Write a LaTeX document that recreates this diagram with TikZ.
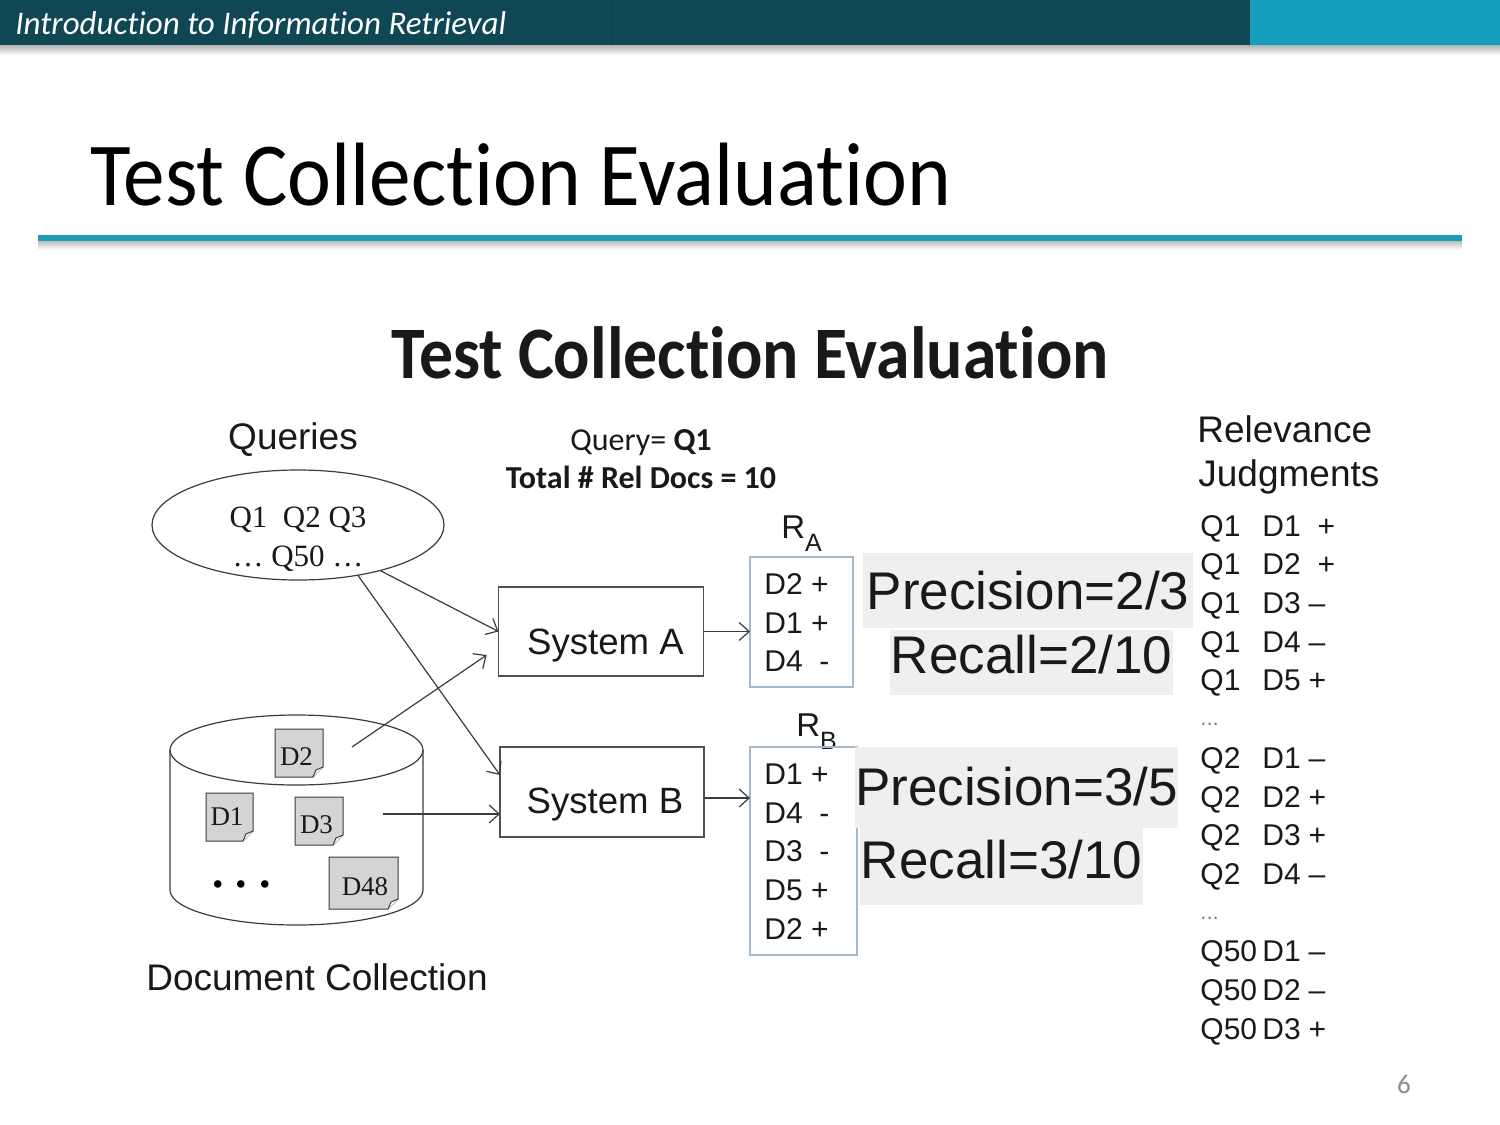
\documentclass[tikz,border=0pt]{standalone}
\usepackage{fontspec}
\usepackage{graphicx}
\setmainfont{Liberation Sans}
\newfontfamily\calfont{Carlito}[Ligatures=NoCommon]
\newfontfamily\tmsfont{Liberation Serif}
\usetikzlibrary{arrows.meta,shapes.geometric}
\definecolor{hdrdark}{RGB}{16,71,84}
\definecolor{hdrlight}{RGB}{20,157,189}
\definecolor{rulecol}{RGB}{31,155,182}
\definecolor{boxline}{RGB}{80,80,80}
\definecolor{listline}{RGB}{165,185,205}
\definecolor{pbg}{RGB}{239,239,239}
\definecolor{docgray}{RGB}{212,212,212}
\definecolor{ink}{RGB}{25,25,25}
\definecolor{lineink}{RGB}{60,60,60}
\definecolor{pagenum}{RGB}{140,140,140}
\newcommand{\docicon}[8]{%
  \fill[docgray] (#2,#3) -- (#4,#3) -- (#4,{#5-10}) -- ({#4-10},#5) -- (#2,#5) -- cycle;
  \draw[lineink, line width=0.5pt] (#2,#3) -- (#4,#3) -- (#4,{#5-10}) -- ({#4-10},#5) -- (#2,#5) -- cycle;
  \draw[lineink, line width=0.5pt, fill=white] (#4,{#5-10}) -- ({#4-7},{#5-7}) -- ({#4-10},#5);
  \node[doclabel] (#1) at (#6,#7) {#8};
}
\begin{document}
\begin{tikzpicture}[x=0.5pt,y=-0.5pt,
  txt/.style={inner sep=0, text=ink},
  doclabel/.style={inner sep=0, text=ink, font=\tmsfont\fontsize{13.5}{16}\selectfont},
  sysbox/.style={draw=boxline, line width=0.6pt, rectangle, inner sep=0, outer sep=0},
  listbox/.style={draw=listline, line width=0.6pt, rectangle, inner sep=0, outer sep=0},
  pr/.style={fill=pbg, inner sep=0, text=ink, font=\fontsize{26.5}{30}\selectfont, text height=19.35pt},
  conn/.style={draw=lineink, line width=0.6pt, -{Straight Barb[length=5pt,width=9pt]}},
  lst/.style={anchor=north west, inner sep=0, text=ink, font=\fontsize{15}{19.35}\selectfont}
]
\useasboundingbox (0,0) rectangle (1500,1125);
\fill[white] (0,0) rectangle (1500,1125);
% header bar
\shade[top color=black!30, bottom color=white] (0,45) rectangle (1500,55);
\fill[hdrdark] (0,0) rectangle (1250,45);
\fill[hdrlight] (1250,0) rectangle (1500,45);
\draw[hdrdark!85!black, line width=0.5pt] (612,0) -- (612,45);
\node[anchor=base west, inner sep=0, text=white, font=\calfont\itshape\fontsize{16.5}{20}\selectfont] (hdr) at (15,34) {Introduction to Information Retrieval};
% title
\node[anchor=base west, inner sep=0, text=black, font=\calfont\fontsize{45}{54}\selectfont] (title) at (90,205) {\scalebox{0.925}[1]{Test Collection Evaluation}};
\shade[top color=black!25, bottom color=white] (38,241) rectangle (1462,250);
\fill[rulecol] (38,235) rectangle (1462,241);
% subtitle
\node[anchor=base, txt, font=\calfont\bfseries\fontsize{37}{44}\selectfont] (sub) at (750,378) {\scalebox{0.915}[1]{Test Collection Evaluation}};
\node[anchor=base, txt, font=\calfont\fontsize{16}{19}\selectfont] (qline) at (641,450) {Query= \textbf{Q1}};
\node[anchor=base, txt, font=\calfont\bfseries\fontsize{16}{19}\selectfont] (totline) at (641,488) {Total \# Rel Docs = 10};
% queries
\node[anchor=base, txt, font=\fontsize{18.5}{22}\selectfont] (queries) at (293,449) {Queries};
\node[draw=lineink, line width=0.6pt, ellipse, minimum width=146pt, minimum height=55pt, inner sep=0, outer sep=0] (qell) at (298,525) {};
\node[txt, align=center, font=\tmsfont\fontsize{15.5}{19.5}\selectfont] (qtext) at (298,539) {Q1\ \ Q2 Q3\\\ldots\ Q50 \ldots};
% document collection cylinder
\draw[lineink, line width=0.6pt] (296.5,750) ellipse [x radius=63.25pt, y radius=17.5pt];
\draw[lineink, line width=0.6pt] (170,750) -- (170,890) arc[start angle=180, end angle=360, x radius=63.25pt, y radius=17.5pt] -- (423,750);
\docicon{d2}{275}{729}{323}{777}{296.5}{757}{D2}
\docicon{d1}{206}{793}{253}{841}{227}{817}{D1}
\docicon{d3}{295}{797}{343}{845}{316.5}{825}{D3}
\docicon{d48}{329}{857}{398}{909}{365}{887}{D48}
\node[anchor=base west, inner sep=0, text=black, font=\tmsfont\bfseries\fontsize{23}{24}\selectfont] (dots) at (212,887) {.\hspace{6pt}.\hspace{6pt}.};
\coordinate (dc1) at (352,747);
\coordinate (dc2) at (383,814);
\node[anchor=base, txt, font=\fontsize{18.5}{22}\selectfont] (dcol) at (317,990) {Document Collection};
% systems
\node[sysbox, minimum width=102.5pt, minimum height=44.5pt] (sa) at (601,631.5) {};
\node[anchor=base, txt, font=\fontsize{18.3}{22}\selectfont] (sat) at (605.5,654) {System A};
\node[sysbox, minimum width=102pt, minimum height=45pt] (sb) at (602,792) {};
\node[anchor=base, txt, font=\fontsize{18.3}{22}\selectfont] (sbt) at (605,813) {System B};
% result lists
\node[anchor=base west, txt, font=\fontsize{16.5}{16}\selectfont] (ralab) at (781,538) {R\raisebox{-6.5pt}{\fontsize{12.5}{12.5}\selectfont A}};
\node[listbox, minimum width=51.5pt, minimum height=65pt] (ra) at (801.5,622) {};
\node[lst] (ralist) at (764,567) {\begin{tabular}{@{}l@{}}D2 +\\D1 +\\D4\ \ -\end{tabular}};
\node[anchor=base west, txt, font=\fontsize{16.5}{16}\selectfont] (rblab) at (796,736) {R\raisebox{-6.5pt}{\fontsize{12.5}{12.5}\selectfont B}};
\node[listbox, minimum width=53.5pt, minimum height=104pt] (rb) at (803.5,851) {};
\node[lst] (rblist) at (764,757) {\begin{tabular}{@{}l@{}}D1 +\\D4\ \ -\\D3\ \ -\\D5 +\\D2 +\end{tabular}};
% precision / recall
\node[pr, text depth=0.5pt, minimum width=165pt, minimum height=37.5pt] (p1) at (1028,590.5) {Precision=2/3};
\node[pr, text depth=8.2pt, minimum width=141.5pt, minimum height=32.5pt] (r1) at (1031.5,662.5) {Recall=2/10};
\node[pr, text depth=1.3pt, minimum width=161.5pt, minimum height=40.5pt] (p2) at (1016.5,787.5) {Precision=3/5};
\node[pr, text depth=6.9pt, minimum width=141.5pt, minimum height=38.5pt] (r2) at (1001.5,866.5) {Recall=3/10};
% relevance judgments
\node[anchor=base west, txt, font=\fontsize{18.5}{22}\selectfont] (relv) at (1197,442) {Relevance};
\node[anchor=base west, txt, font=\fontsize{18.5}{22}\selectfont] (judg) at (1198,486) {Judgments};
\node[lst] (rjlist) at (1200,508.6) {\begin{tabular}{@{}l@{\hspace{2.65pt}}l@{\hspace{4pt}}l@{}}
Q1 & D1 & \hspace{4.5pt}+\\
Q1 & D2 & \hspace{4.5pt}+\\
Q1 & D3 & \textendash\\
Q1 & D4 & \textendash\\
Q1 & D5 & +\\
\multicolumn{3}{@{}l@{}}{\textcolor{gray}{\raisebox{2pt}{\fontsize{11}{11}\selectfont...}}}\\
Q2 & D1 & \textendash\\
Q2 & D2 & +\\
Q2 & D3 & +\\
Q2 & D4 & \textendash\\
\multicolumn{3}{@{}l@{}}{\textcolor{gray}{\raisebox{2pt}{\fontsize{11}{11}\selectfont...}}}\\
Q50 & D1 & \textendash\\
Q50 & D2 & \textendash\\
Q50 & D3 & +
\end{tabular}};
% connectors
\draw[conn] (qell.-29.5) -- (sa.west);
\draw[conn] (qell.-40) -- ([yshift=8.5pt]sb.west);
\draw[conn] (dc1) -- ([xshift=-5.9pt,yshift=-11.75pt]sa.west);
\draw[conn] (dc2) -- ([yshift=-11pt]sb.west);
\draw[conn] (sa.east) -- (sa.east -| ra.west);
\draw[conn] ([yshift=-3pt]sb.east) -- ([yshift=-3pt]sb.east -| rb.west);
% page number
\node[txt, text=pagenum, font=\calfont\fontsize{13.5}{16}\selectfont] (pg) at (1404,1084) {6};
\end{tikzpicture}
\end{document}
